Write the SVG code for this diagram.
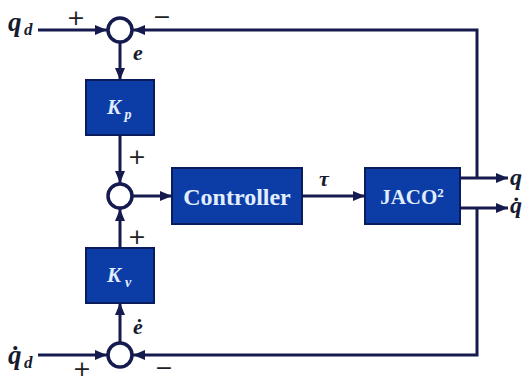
<svg xmlns="http://www.w3.org/2000/svg" width="528" height="382" viewBox="0 0 528 382">
<defs>
<marker id="ah" viewBox="0 0 12 10" refX="12" refY="5" markerWidth="12" markerHeight="10" markerUnits="userSpaceOnUse" orient="auto">
<path d="M0,0 L12,5 L0,10 z" fill="#161b4f"/>
</marker>
</defs>
<style>
.ar{fill:none;stroke:#161b4f;stroke-width:3;marker-end:url(#ah)}
.sum{fill:#ffffff;stroke:#161b4f;stroke-width:3.5}
.box{fill:#0c3da6;stroke:#0a1c5c;stroke-width:2}
.bt{font-family:"Liberation Serif",serif;font-weight:bold;fill:#e2eeff;text-anchor:middle}
.math{font-family:"Liberation Serif",serif;font-weight:bold;font-style:italic;fill:#161b2f}
.sg{font-family:"DejaVu Sans",sans-serif;font-weight:normal;font-size:22px;fill:#222222;text-anchor:middle}
</style>
<rect width="528" height="382" fill="#ffffff"/>
<g id="connectors">
<line class="ar" x1="38" y1="30" x2="107" y2="30"/>
<polyline class="ar" points="477,178 477,30 133,30"/>
<line class="ar" x1="120" y1="43" x2="120" y2="80"/>
<line class="ar" x1="120" y1="135" x2="120" y2="183"/>
<line class="ar" x1="120" y1="248" x2="120" y2="209"/>
<line class="ar" x1="120" y1="342" x2="120" y2="303"/>
<line class="ar" x1="133" y1="196" x2="172" y2="196"/>
<line class="ar" x1="302" y1="196" x2="365" y2="196"/>
<line class="ar" x1="460" y1="178" x2="508" y2="178"/>
<line class="ar" x1="460" y1="208" x2="508" y2="208"/>
<polyline class="ar" points="477,208 477,355 133,355"/>
<line class="ar" x1="38" y1="355" x2="107" y2="355"/>
</g>
<g id="sum1"><circle class="sum" cx="120" cy="30" r="12"/></g>
<g id="sum2"><circle class="sum" cx="120" cy="196" r="12"/></g>
<g id="sum3"><circle class="sum" cx="120" cy="355" r="12"/></g>
<g id="kp">
<rect class="box" x="86" y="80" width="68" height="55"/>
<text class="bt" x="114" y="114" font-size="21" font-style="italic">K</text>
<text class="bt" x="128" y="119" font-size="14" font-style="italic">p</text>
</g>
<g id="kv">
<rect class="box" x="86" y="248" width="68" height="55"/>
<text class="bt" x="114" y="282" font-size="21" font-style="italic">K</text>
<text class="bt" x="128" y="287" font-size="14" font-style="italic">v</text>
</g>
<g id="controller">
<rect class="box" x="172" y="168" width="130" height="56"/>
<text class="bt" x="237" y="205" font-size="24">Controller</text>
</g>
<g id="jaco">
<rect class="box" x="365" y="168" width="95" height="56"/>
<text class="bt" x="412" y="204" font-size="21">JACO<tspan font-size="13" dy="-7">2</tspan></text>
</g>
<g id="labels">
<text class="math" x="8" y="31" font-size="27">q</text>
<text class="math" x="24" y="35" font-size="17">d</text>
<text class="math" x="8" y="364" font-size="27">q̇</text>
<text class="math" x="24" y="368" font-size="17">d</text>
<text class="sg" x="76" y="25">+</text>
<text class="sg" x="162" y="24">−</text>
<text class="math" x="133" y="60" font-size="22">e</text>
<text class="sg" x="137" y="164">+</text>
<text class="sg" x="137" y="244">+</text>
<text class="math" x="133" y="334" font-size="22">ė</text>
<text class="sg" x="82" y="376" font-size="20">+</text>
<text class="sg" x="164" y="375">−</text>
<text class="math" x="319" y="186" font-size="22">τ</text>
<text class="math" x="510" y="185" font-size="24">q</text>
<text class="math" x="510" y="213" font-size="24">q̇</text>
</g>
</svg>
